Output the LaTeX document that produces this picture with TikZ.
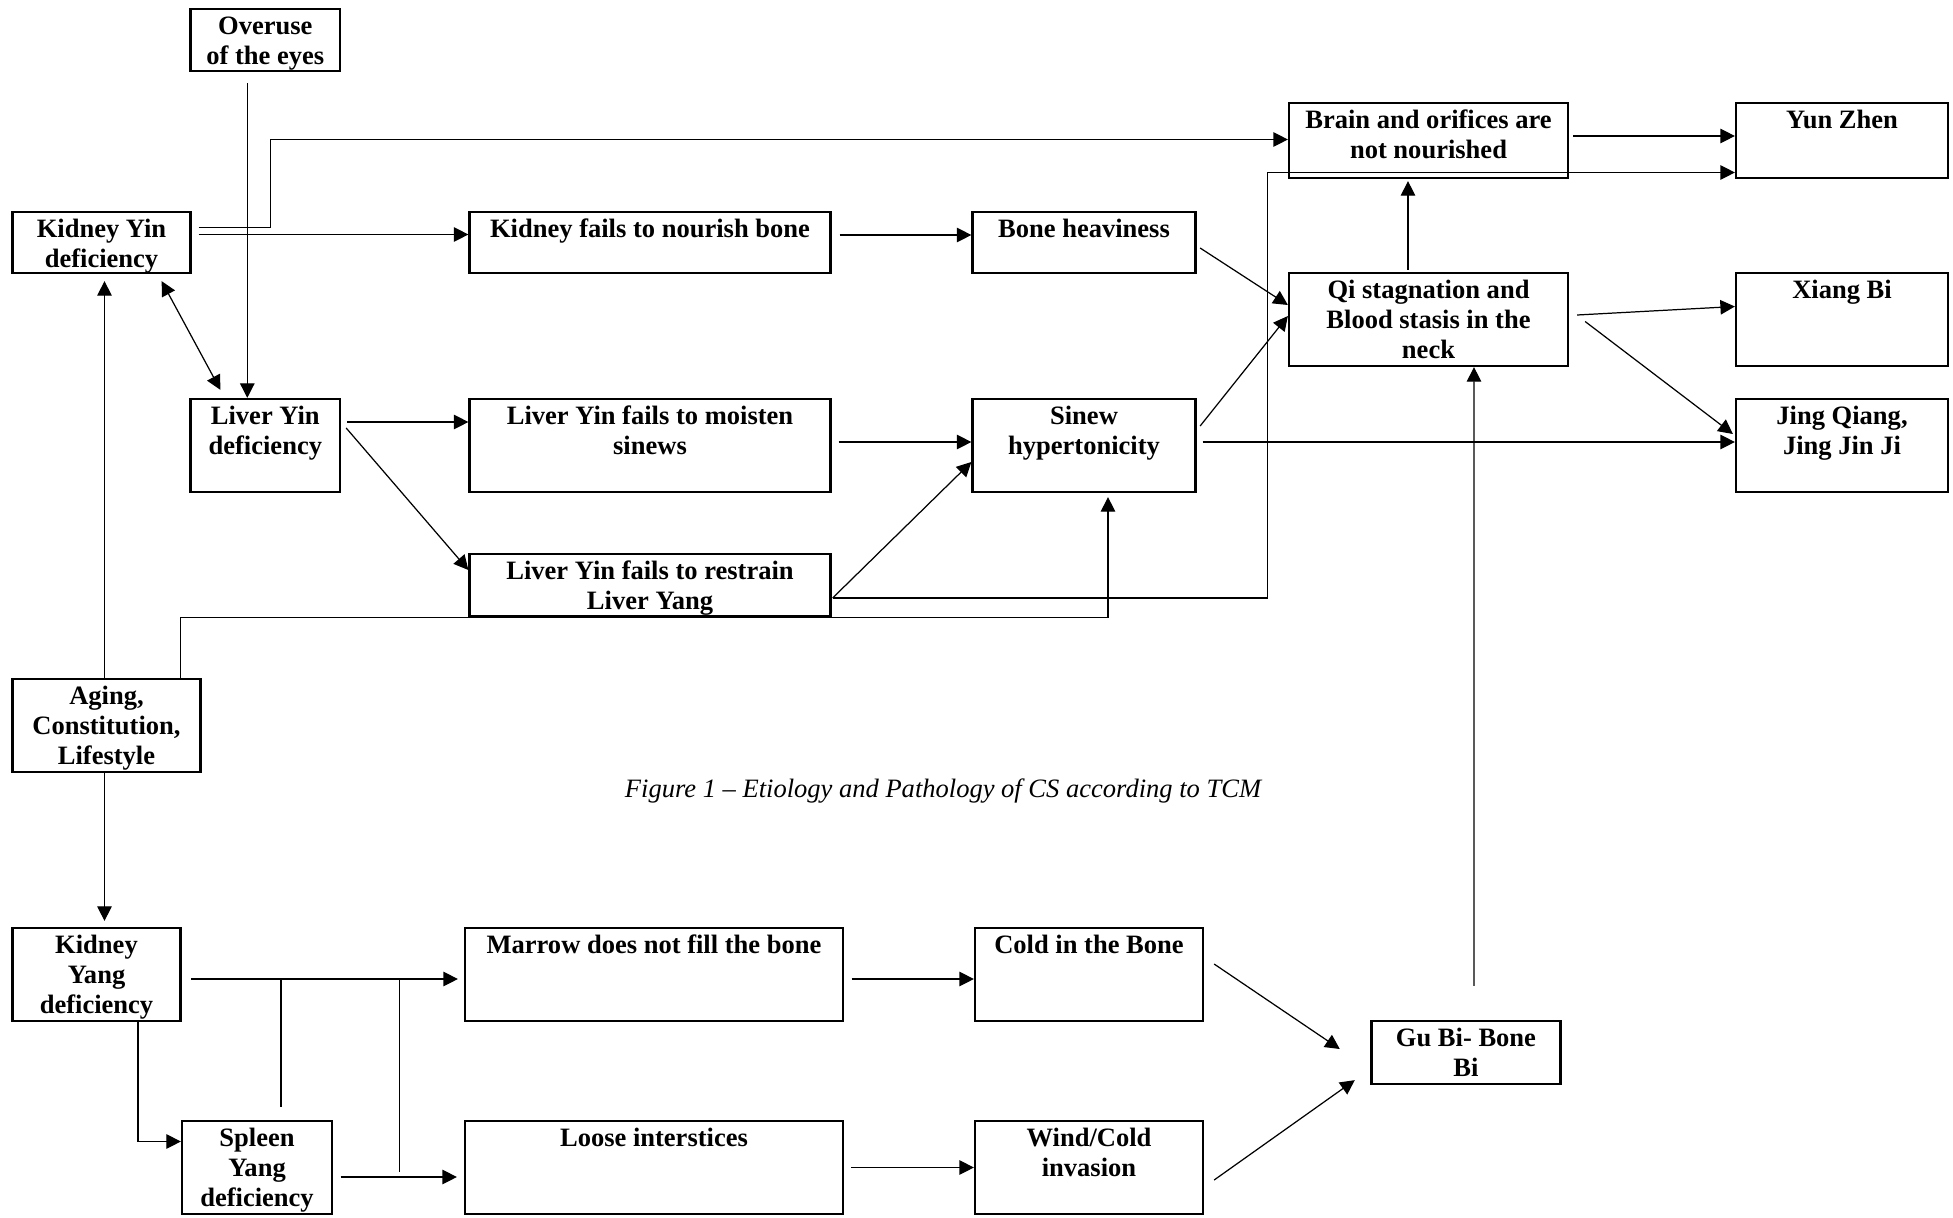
\documentclass[tikz,border=0pt]{standalone}
\usepackage{fontspec}
\setmainfont{Liberation Serif}
\usetikzlibrary{arrows.meta}
\usetikzlibrary{calc}

\newcommand{\boxtxt}[3]{\parbox[c][#2][t]{#1}{\vspace*{2.5pt}\centering\strut #3}}

\tikzset{
  blk/.style={draw, line width=1.3pt, inner sep=0pt, font=\bfseries\fontsize{15.1}{17.1}\selectfont},
  arr/.style={line width=0.7pt, -{Triangle[length=0.29cm, width=0.29cm]}},
  dbl/.style={line width=0.7pt, {Triangle[length=0.29cm, width=0.29cm]}-{Triangle[length=0.29cm, width=0.29cm]}},
  ln/.style={line width=0.7pt}
}

\begin{document}
\begin{tikzpicture}[x=0.02cm, y=-0.02cm]
			\useasboundingbox (0,0) rectangle (1953,1217);
			% upper part
			\node[blk] (ovr) at (265.3,39.9) {\boxtxt{2.99cm}{1.25cm}{Overuse\\of the eyes}};
			\node[blk] (kyin) at (101.5,242.5) {\boxtxt{3.56cm}{1.22cm}{Kidney Yin\\deficiency}};
			\node[blk] (knour) at (650,242.5) {\boxtxt{7.22cm}{1.22cm}{Kidney fails to nourish bone}};
			\node[blk] (bheavy) at (1084,242.5) {\boxtxt{4.46cm}{1.22cm}{Bone heaviness}};
			\node[blk] (brain) at (1428.5,140.5) {\boxtxt{5.58cm}{1.5cm}{Brain and orifices are\\not nourished}};
			\node[blk] (yun) at (1842,140.5) {\boxtxt{4.24cm}{1.5cm}{Yun Zhen}};
			\node[blk] (qi) at (1428.5,319.5) {\boxtxt{5.58cm}{1.86cm}{Qi stagnation and\\Blood stasis in the\\neck}};
			\node[blk] (xiang) at (1842,319.5) {\boxtxt{4.24cm}{1.86cm}{Xiang Bi}};
			\node[blk] (jing) at (1842,445.5) {\boxtxt{4.24cm}{1.86cm}{Jing Qiang,\\Jing Jin Ji}};
			\node[blk] (lyin) at (265.3,445.5) {\boxtxt{2.99cm}{1.86cm}{Liver Yin\\deficiency}};
			\node[blk] (moist) at (650,445.5) {\boxtxt{7.22cm}{1.86cm}{Liver Yin fails to moisten\\sinews}};
			\node[blk] (sinew) at (1084,445.5) {\boxtxt{4.46cm}{1.86cm}{Sinew\\hypertonicity}};
			\node[blk] (restr) at (650,585) {\boxtxt{7.22cm}{1.25cm}{Liver Yin fails to restrain\\Liver Yang}};
			\node[blk] (aging) at (106.5,725.5) {\boxtxt{3.76cm}{1.86cm}{Aging,\\Constitution,\\Lifestyle}};
			% lower part
			\node[blk] (kyang) at (96.5,974.5) {\boxtxt{3.36cm}{1.86cm}{Kidney\\Yang\\deficiency}};
			\node[blk] (marrow) at (654,974.5) {\boxtxt{7.56cm}{1.86cm}{Marrow does not fill the bone}};
			\node[blk] (cold) at (1089,974.5) {\boxtxt{4.56cm}{1.86cm}{Cold in the Bone}};
			\node[blk] (gubi) at (1466,1052.5) {\boxtxt{3.78cm}{1.26cm}{Gu Bi- Bone\\Bi}};
			\node[blk] (spleen) at (257,1167.5) {\boxtxt{3.0cm}{1.86cm}{Spleen\\Yang\\deficiency}};
			\node[blk] (loose) at (654,1167.5) {\boxtxt{7.56cm}{1.86cm}{Loose interstices}};
			\node[blk] (wind) at (1089,1167.5) {\boxtxt{4.56cm}{1.86cm}{Wind/Cold\\invasion}};
			\node (cap) at (943,791) {\itshape\fontsize{15.1}{17.1}\selectfont Figure 1 -- Etiology and Pathology of CS according to TCM};
			\draw[arr] ($(ovr.south)+(-18,11)$) -- ($(lyin.north)+(-18,0)$);
			\draw[arr] ($(kyin.east)+(7,-8)$) -- ($(knour.west)+(0,-8)$);
			\draw[arr] ($(kyin.east)+(7,-15)$) -- ++(72,0) |- ($(brain.west)+(0,-1)$);
			\draw[dbl] ($(kyin.south east)+(-30,7)$) -- ($(lyin.north west)+(31,-8)$);
			\draw[arr] ($(aging.north)+(-2,0)$) -- ($(kyin.south)+(3,7)$);
			\draw[arr] ($(lyin.east)+(6,-23.5)$) -- ($(moist.west)+(0,-23.5)$);
			\draw[arr] ($(lyin.east)+(5,-17.5)$) -- ($(restr.west)+(0,-15)$);
			\draw[arr] ($(knour.east)+(8,-7.5)$) -- ($(bheavy.west)+(0,-7.5)$);
			\draw[arr] ($(bheavy.east)+(3.5,5.5)$) -- ($(qi.west)+(0,-14.5)$);
			\draw[arr] ($(moist.east)+(7,-3.5)$) -- ($(sinew.west)+(0,-3.5)$);
			\draw[arr] ($(sinew.east)+(3.5,-19.5)$) -- ($(qi.west)+(0,-3.5)$);
			\draw[arr] ($(sinew.east)+(6,-3.5)$) -- ($(jing.west)+(0,-3.5)$);
			\draw[arr] ($(restr.east)+(1,13)$) -- ($(sinew.west)+(0,16.5)$);
			\draw[arr] ($(restr.east)+(1,13)$) -- ++(435,0) |- ($(yun.west)+(0,32)$);
			\draw[arr] ($(aging.north east)+(-21,0)$) |- (restr.south east) -| ($(sinew.south)+(24,4)$);
			\draw[arr] ($(aging.south)+(-2,0)$) -- ($(kyang.north)+(8,-6)$);
			\draw[arr] ($(kyang.east)+(9.5,4.5)$) -- ($(marrow.west)+(-6,4.5)$);
			\draw[ln] ($(spleen.north)+(24,-13)$) -- ++(0,-129);
			\draw[ln] ($(kyang.east)+(217.5,4.5)$) -- ++(0,193);
			\draw[arr] ($(spleen.east)+(7.5,9.5)$) -- ($(loose.west)+(-7,9.5)$);
			\draw[arr] ($(kyang.south)+(41.5,0)$) |- ($(spleen.west)+(0,-26)$);
			\draw[arr] ($(marrow.east)+(7.6,4.5)$) -- ($(cold.west)+(0,4.5)$);
			\draw[arr] ($(loose.east)+(7,0)$) -- (wind.west);
			\draw[arr] ($(cold.east)+(10,-10.5)$) -- ($(gubi.west)+(-30.6,-3.5)$);
			\draw[arr] ($(wind.east)+(10,12.5)$) -- ($(gubi.south west)+(-15.6,-5)$);
			\draw[arr] ($(gubi.north)+(8,-34)$) -- ($(qi.south)+(45.5,0)$);
			\draw[arr] ($(qi.north)+(-20.5,-2)$) -- ($(brain.south)+(-20.5,2)$);
			\draw[arr] ($(brain.east)+(4,-4.5)$) -- ($(yun.west)+(0,-4.5)$);
			\draw[arr] ($(qi.east)+(8,-4.5)$) -- ($(xiang.west)+(0,-13)$);
			\draw[arr] ($(qi.east)+(16,2)$) -- ($(jing.west)+(-2,-11.5)$);
		\end{tikzpicture}
\end{document}
